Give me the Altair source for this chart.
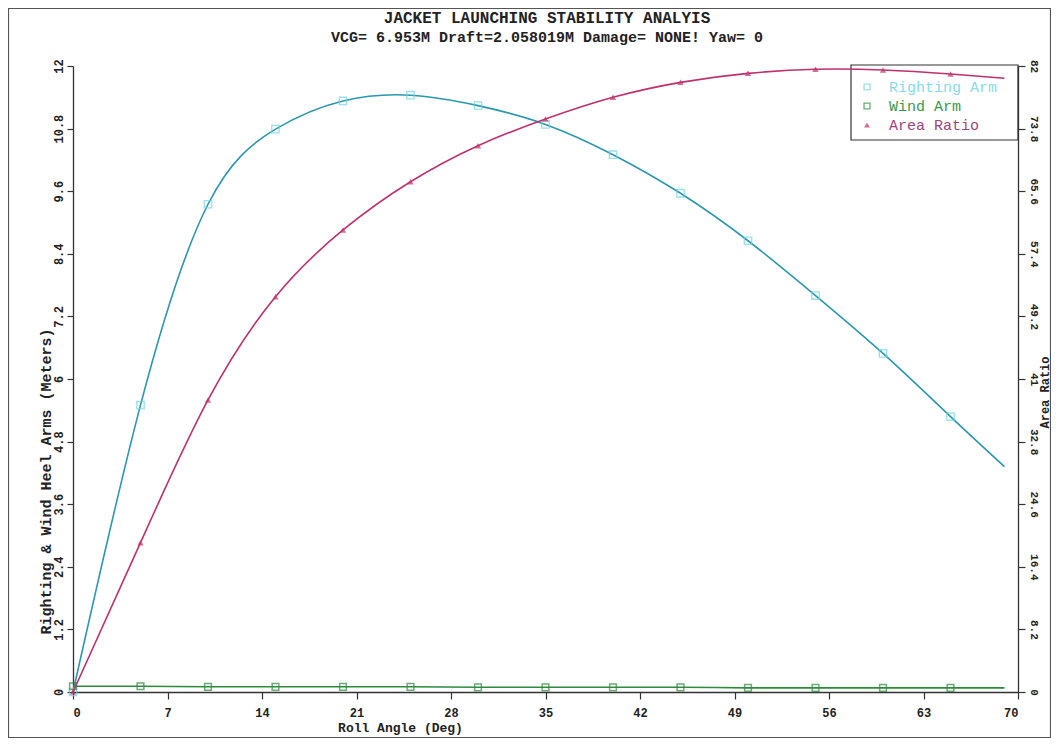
import altair as alt
import pandas as pd

# ---- data ----
angles = [0, 5, 10, 15, 20, 25, 30, 35, 40, 45, 50, 55, 60, 65, 69]
righting_arm = [0.0, 5.50, 9.35, 10.79, 11.33, 11.44, 11.24, 10.88, 10.30, 9.56, 8.65, 7.60, 6.49, 5.28, 4.32]
wind_arm = [0.11, 0.11, 0.10, 0.10, 0.10, 0.10, 0.09, 0.09, 0.09, 0.09, 0.08, 0.08, 0.08, 0.08, 0.08]
area_ratio = [0.0, 19.56, 38.25, 51.78, 60.52, 66.84, 71.56, 75.06, 77.90, 79.86, 81.04, 81.57, 81.47, 80.95, 80.39]
series_names = ["Righting Arm", "Wind Arm", "Area Ratio"]
x_ticks = [0, 7, 14, 21, 28, 35, 42, 49, 56, 63, 70]
left_ticks = [0, 1.2, 2.4, 3.6, 4.8, 6, 7.2, 8.4, 9.6, 10.8, 12]
right_ticks = [0, 8.2, 16.4, 24.6, 32.8, 41, 49.2, 57.4, 65.6, 73.8, 82]

title_text = "JACKET LAUNCHING STABILITY ANALYIS"
subtitle_text = "VCG= 6.953M Draft=2.058019M Damage= NONE! Yaw= 0"

df = pd.DataFrame({"angle": angles, "righting": righting_arm, "wind": wind_arm, "area": area_ratio})

FONT = "Liberation Mono"
AX = "#333333"
TXT = "#222222"
C_RA = "#2a98ae"
C_RA_M = "#6fd3e6"
C_WA = "#2e8b3e"
C_AR = "#c0306c"

W, H = 945, 626

xenc = alt.X("angle:Q", scale=alt.Scale(domain=[0, 70], nice=False, zero=False),
             axis=alt.Axis(values=x_ticks, title="Roll Angle (Deg)", format="d",
                           labelFont=FONT, labelFontSize=12, labelFontWeight="bold",
                           labelPadding=8, tickSize=7,
                           titleFont=FONT, titleFontSize=13, titleFontWeight="bold",
                           titleX=327, titleY=35, titleBaseline="middle", titleAnchor="middle"))

left_axis = alt.Axis(values=left_ticks, title="Righting & Wind Heel Arms (Meters)", format=".4~g",
                     labelAngle=270, labelAlign="center", labelBaseline="bottom",
                     labelFont=FONT, labelFontSize=12, labelFontWeight="bold",
                     labelPadding=2, tickSize=6,
                     titleFont=FONT, titleFontSize=15, titleFontWeight="bold",
                     titleAngle=270, titleX=-28, titleY=415, titleAlign="center",
                     titleBaseline="middle")
left_scale = alt.Scale(domain=[0, 12], nice=False)

right_axis = alt.Axis(values=right_ticks, title="Area Ratio", orient="right", format=".4~g",
                      labelAngle=90, labelAlign="center", labelBaseline="bottom",
                      labelFont=FONT, labelFontSize=11, labelFontWeight="bold",
                      labelPadding=3, tickSize=7,
                      titleFont=FONT, titleFontSize=12, titleFontWeight="bold",
                      titleAngle=270, titleX=26, titleY=326, titleAlign="center",
                      titleBaseline="middle")
right_scale = alt.Scale(domain=[0, 82], nice=False)

base = alt.Chart(df)
marker_filter = "datum.angle <= 65"

ra_line = base.mark_line(color=C_RA, strokeWidth=1.6, interpolate="natural").encode(
    x=xenc, y=alt.Y("righting:Q", scale=left_scale, axis=left_axis))
ra_pts = base.transform_filter(marker_filter).mark_point(
    shape="square", filled=False, color=C_RA_M, size=55, strokeWidth=1.3).encode(
    x=xenc, y=alt.Y("righting:Q", scale=left_scale, axis=left_axis))
wa_line = base.mark_line(color=C_WA, strokeWidth=1.6, interpolate="monotone").encode(
    x=xenc, y=alt.Y("wind:Q", scale=left_scale, axis=left_axis))
wa_pts = base.transform_filter(marker_filter).mark_point(
    shape="square", filled=False, color=C_WA, size=45, strokeWidth=1.5).encode(
    x=xenc, y=alt.Y("wind:Q", scale=left_scale, axis=left_axis))

left_group = alt.layer(ra_line, wa_line, ra_pts, wa_pts)

ar_line = base.mark_line(color=C_AR, strokeWidth=1.6, interpolate="natural").encode(
    x=xenc, y=alt.Y("area:Q", scale=right_scale, axis=right_axis))
ar_pts = base.transform_filter(marker_filter).mark_point(
    shape="triangle-up", filled=True, color=C_AR, size=40).encode(
    x=xenc, y=alt.Y("area:Q", scale=right_scale, axis=right_axis))
right_group = alt.layer(ar_line, ar_pts)

# ---- legend (drawn manually), titles and frame ----
one = pd.DataFrame({"k": [0]})
legend_box = alt.Chart(one).mark_rect(fill="transparent", stroke=AX, strokeWidth=1.2).encode(
    x=alt.value(778), x2=alt.value(945), y=alt.value(-1), y2=alt.value(74))
frame = alt.Chart(one).mark_rect(fill="transparent", stroke="#555555", strokeWidth=1.2).encode(
    x=alt.value(-64.5), x2=alt.value(977.5), y=alt.value(-57.5), y2=alt.value(671.5))

title_df = pd.DataFrame({"t": [title_text]})
subtitle_df = pd.DataFrame({"t": [subtitle_text]})
title_mark = alt.Chart(title_df).mark_text(
    font=FONT, fontSize=16, fontWeight="bold", color=TXT, align="center", baseline="middle").encode(
    x=alt.value(474), y=alt.value(-48), text="t:N")
subtitle_mark = alt.Chart(subtitle_df).mark_text(
    font=FONT, fontSize=15, fontWeight="bold", color=TXT, align="center", baseline="middle").encode(
    x=alt.value(474), y=alt.value(-29), text="t:N")

leg_colors = ["#86dbea", "#3a9a4a", "#a0457f"]
leg_sym_colors = [C_RA_M, C_WA, C_AR]
leg_shapes = ["square", "square", "triangle-up"]
leg_filled = [False, False, True]
leg_y = [21, 40, 59]
legend_layers = []
for i, name in enumerate(series_names):
    d = pd.DataFrame({"name": [name]})
    legend_layers.append(alt.Chart(d).mark_text(
        font=FONT, fontSize=15, align="left", baseline="middle", color=leg_colors[i]).encode(
        x=alt.value(816), y=alt.value(leg_y[i]), text="name:N"))
    legend_layers.append(alt.Chart(d).mark_point(
        shape=leg_shapes[i], filled=leg_filled[i], color=leg_sym_colors[i], size=35, strokeWidth=1.3).encode(
        x=alt.value(794), y=alt.value(leg_y[i])))

chart = alt.layer(frame, legend_box, title_mark, subtitle_mark, left_group, right_group,
                  *legend_layers).resolve_scale(
    y="independent"
).properties(
    width=W, height=H,
    autosize=alt.AutoSizeParams(type="none"),
    padding={"left": 65, "top": 58, "right": 33, "bottom": 46},
).configure_view(stroke=None).configure_axis(
    grid=False, domainColor=AX, tickColor=AX, labelColor=TXT, titleColor=TXT,
    domainWidth=1.3, tickWidth=1.2
)

chart.save("out.html", embed_options={"renderer": "svg", "actions": False})
